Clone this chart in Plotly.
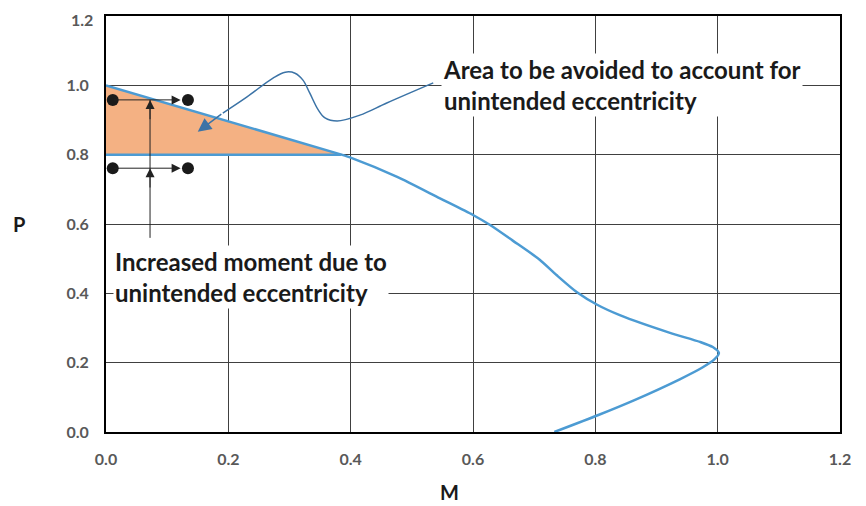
import plotly.graph_objects as go

# Interaction curve data (M, P)
diag_M = [0.0, 0.385]
diag_P = [1.0, 0.80]
curve_M = [0.385, 0.402, 0.476, 0.546, 0.600, 0.628, 0.665, 0.709, 0.737, 0.770, 0.803, 0.840, 0.922, 0.971, 0.992, 1.002, 0.995, 0.975, 0.938, 0.864, 0.805, 0.733]
curve_P = [0.80, 0.79, 0.736, 0.674, 0.626, 0.597, 0.552, 0.497, 0.452, 0.403, 0.367, 0.337, 0.286, 0.260, 0.245, 0.228, 0.210, 0.186, 0.152, 0.092, 0.049, 0.0]
cap_M = [0.0, 0.385]
cap_P = [0.80, 0.80]
area_M = [0.0, 0.385, 0.0]
area_P = [1.0, 0.80, 0.80]

# Leader line (squiggle) toward the shaded area
leader_M = [0.535, 0.459, 0.415, 0.378, 0.358, 0.347, 0.333, 0.322, 0.309, 0.293, 0.273, 0.230, 0.191]
leader_P = [1.007, 0.949, 0.914, 0.897, 0.906, 0.929, 0.978, 1.015, 1.035, 1.038, 1.021, 0.966, 0.920]

# Eccentricity markers
dot_M = [0.011, 0.134, 0.011, 0.134]
dot_P = [0.958, 0.958, 0.761, 0.761]
vert_M = [0.072, 0.072]
vert_P = [0.56, 0.958]

tick_vals = [0.0, 0.2, 0.4, 0.6, 0.8, 1.0, 1.2]
tick_text = ["0.0", "0.2", "0.4", "0.6", "0.8", "1.0", "1.2"]

BLUE = "#4C9BD3"
DARKBLUE = "#3B73A6"
FONT = "Lato"
TICKFONT = dict(family=FONT, size=16, color="#595959", weight="bold")

fig = go.Figure()
fig.add_trace(go.Scatter(x=area_M, y=area_P, fill="toself", fillcolor="#F4B183",
                         line=dict(width=0), mode="lines", hoverinfo="skip"))
fig.add_trace(go.Scatter(x=diag_M, y=diag_P, mode="lines", line=dict(color=BLUE, width=2.5)))
fig.add_trace(go.Scatter(x=cap_M, y=cap_P, mode="lines", line=dict(color=BLUE, width=2.5)))
fig.add_trace(go.Scatter(x=curve_M, y=curve_P, mode="lines",
                         line=dict(color=BLUE, width=2.5, shape="spline", smoothing=0.7)))
fig.add_trace(go.Scatter(x=leader_M, y=leader_P, mode="lines",
                         line=dict(color=DARKBLUE, width=1.5, shape="spline", smoothing=1.0)))
fig.add_trace(go.Scatter(x=vert_M, y=vert_P, mode="lines", line=dict(color="#222222", width=1)))
fig.add_trace(go.Scatter(x=dot_M, y=dot_P, mode="markers",
                         marker=dict(color="#1a1a1a", size=12)))

annotations = []
# leader arrowhead
annotations.append(dict(x=0.150, y=0.866, ax=leader_M[-1], ay=leader_P[-1], xref="x", yref="y",
                        axref="x", ayref="y", showarrow=True, arrowhead=2, arrowsize=1.8,
                        arrowwidth=1.5, arrowcolor=DARKBLUE, text=""))
# horizontal arrows
for yy in [dot_P[0], dot_P[2]]:
    annotations.append(dict(x=0.122, y=yy, ax=0.011, ay=yy, xref="x", yref="y", axref="x", ayref="y",
                            showarrow=True, arrowhead=2, arrowsize=1.8, arrowwidth=1,
                            arrowcolor="#222222", text=""))
# vertical arrowheads
for yy in [0.958, 0.761]:
    annotations.append(dict(x=0.072, y=yy, ax=0.072, ay=yy - 0.06, xref="x", yref="y", axref="x", ayref="y",
                            showarrow=True, arrowhead=2, arrowsize=1.8, arrowwidth=1,
                            arrowcolor="#222222", text=""))
annotations.append(dict(x=0.548, y=1.0, xref="x", yref="y", xanchor="left", yanchor="middle",
                        text="Area to be avoided to account for<br>unintended eccentricity",
                        showarrow=False, align="left", bgcolor="white",
                        font=dict(family=FONT, size=24, color="#1a1a1a", weight="bold")))
annotations.append(dict(x=0.012, y=0.446, xref="x", yref="y", xanchor="left", yanchor="middle",
                        text="Increased moment due to<br>unintended eccentricity",
                        showarrow=False, align="left", bgcolor="white",
                        font=dict(family=FONT, size=24, color="#1a1a1a", weight="bold")))
annotations.append(dict(x=0.562, y=-0.144, xref="x", yref="paper", text="M", showarrow=False,
                        xanchor="center", yanchor="middle",
                        font=dict(family=FONT, size=20, color="#1a1a1a", weight="bold")))
annotations.append(dict(x=-0.119, y=0.6, xref="paper", yref="y", text="P", showarrow=False,
                        xanchor="center", yanchor="middle",
                        font=dict(family=FONT, size=20, color="#1a1a1a", weight="bold")))
# top y tick label, nudged so it stays inside the page
annotations.append(dict(x=-0.0163, y=tick_vals[-1], xref="paper", yref="y", text=tick_text[-1],
                        showarrow=False, xanchor="right", yanchor="middle", yshift=-3, borderpad=0,
                        font=TICKFONT))

y_ticktext = tick_text[:-1] + [""]

axis_common = dict(range=[0, 1.2], tickvals=tick_vals,
                   showgrid=True, gridcolor="#404040", gridwidth=1,
                   showline=True, linecolor="black", linewidth=2, mirror=True,
                   zeroline=False, ticks="", ticklabelstandoff=12, automargin=False,
                   ticklabeloverflow="allow", tickfont=TICKFONT)

# page body has an 8px default margin, so the figure is shifted by 8px
fig.update_layout(
    width=858, height=498, margin=dict(l=98, r=26, t=8, b=74),
    paper_bgcolor="white", plot_bgcolor="white", showlegend=False,
    xaxis=dict(axis_common, ticktext=tick_text),
    yaxis=dict(axis_common, ticktext=y_ticktext),
    annotations=annotations,
)
fig.write_html("out.html")
